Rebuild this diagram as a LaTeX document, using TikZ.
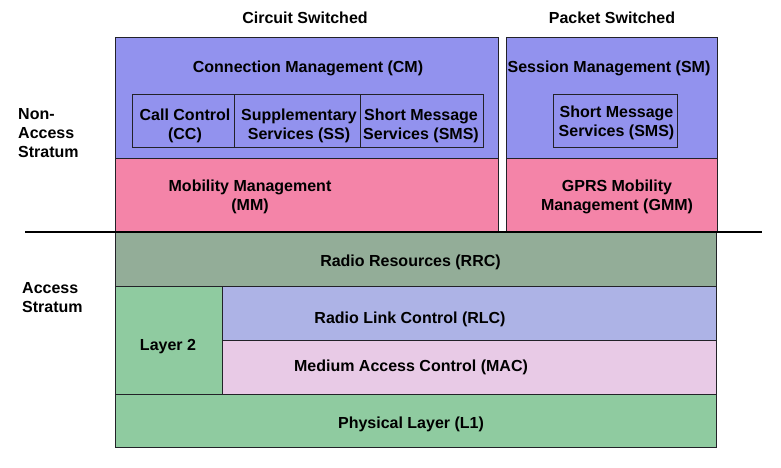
\documentclass[tikz,border=0pt]{standalone}
\usepackage{fontspec}
\setmainfont{Liberation Sans}
\definecolor{cmblue}{RGB}{146,146,238}
\definecolor{mmpink}{RGB}{244,132,168}
\definecolor{rrcgreen}{RGB}{147,173,152}
\definecolor{lgreen}{RGB}{143,203,160}
\definecolor{rlcblue}{RGB}{173,179,230}
\definecolor{macpink}{RGB}{232,202,230}
\definecolor{edge}{RGB}{34,34,40}
\begin{document}
\begin{tikzpicture}[x=1pt, y=-1pt,
    font=\fontsize{16}{19}\selectfont\bfseries,
    layer/.style={draw=edge, line width=1pt, inner sep=0pt},
    lbl/.style={align=center, inner sep=0pt}]
        \useasboundingbox (0,0) rectangle (781,467);
        % non-access stratum, circuit switched
        \node[layer, fill=cmblue, minimum width=383, minimum height=121] (cm) at (306.5,97.5) {};
        \node[layer, fill=mmpink, minimum width=383, minimum height=73] (mm) at (306.5,194.5) {};
        \foreach \boxname/\x/\tx/\w/\lineA/\lineB in {
            cc/183/185/102/Call Control/(CC),
            ss/297/299/126/Supplementary/Services (SS),
            smscs/421.5/421/123/Short Message/Services (SMS)
        } {
            \node[layer, minimum width=\w, minimum height=53] (\boxname) at (\x,120.5) {};
            \node[lbl] (\boxname text) at (\tx,126) {\lineA\\\lineB};
        }
        \node[lbl] (cmtext) at (308,68.5) {Connection Management (CM)};
        \node[lbl] (mmtext) at (250,197) {Mobility Management\\(MM)};
        % non-access stratum, packet switched
        \node[layer, fill=cmblue, minimum width=211, minimum height=121] (sm) at (611.5,97.5) {};
        \node[layer, fill=mmpink, minimum width=211, minimum height=73] (gmm) at (611.5,194.5) {};
        \node[layer, minimum width=124, minimum height=53] (smsps) at (615,120.5) {};
        \node[lbl] (smtext) at (609,68.5) {Session Management (SM)};
        \node[lbl] (smspstext) at (616.5,123) {Short Message\\Services (SMS)};
        \node[lbl] (gmmtext) at (617,197) {GPRS Mobility\\Management (GMM)};
        % access stratum
        \node[layer, fill=rrcgreen, minimum width=601, minimum height=54] (rrc) at (415.5,259) {};
        \node[layer, fill=lgreen, minimum width=107, minimum height=108] (l2) at (168.5,340) {};
        \node[layer, fill=rlcblue, minimum width=494, minimum height=54] (rlc) at (469,313) {};
        \node[layer, fill=macpink, minimum width=494, minimum height=54] (mac) at (469,367) {};
        \node[layer, fill=lgreen, minimum width=601, minimum height=53] (phy) at (415.5,420.5) {};
        \node[lbl] (rrctext) at (410.5,262.5) {Radio Resources (RRC)};
        \node[lbl] (l2text) at (168,346.5) {Layer 2};
        \node[lbl] (rlctext) at (410,319.5) {Radio Link Control (RLC)};
        \node[lbl] (mactext) at (411,367.5) {Medium Access Control (MAC)};
        \node[lbl] (phytext) at (411,424.5) {Physical Layer (L1)};
        % headings and stratum labels
        \node[lbl] (cshead) at (305,17.5) {Circuit Switched};
        \node[lbl] (pshead) at (612,17.5) {Packet Switched};
        \node[lbl, align=left, anchor=west] (nas) at (18,133.5) {Non-\\Access\\Stratum};
        \node[lbl, align=left, anchor=west] (as) at (22,297.5) {Access\\Stratum};
        \coordinate (sl) at (25,232);
        \coordinate (sr) at (762,232);
        \draw[line width=1.8pt] (sl) -- (sr);
    \end{tikzpicture}
\end{document}
